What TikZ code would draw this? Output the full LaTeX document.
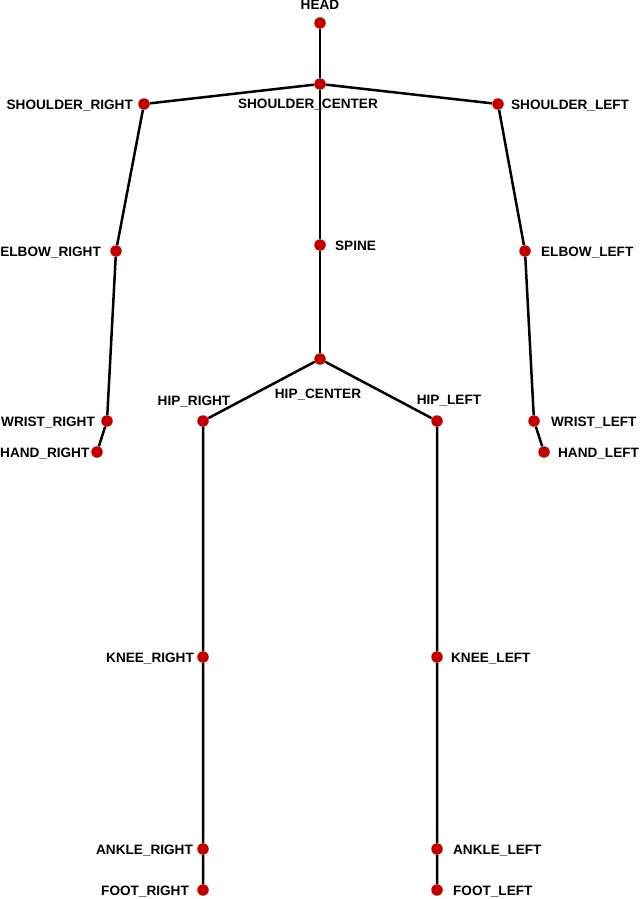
\documentclass[tikz,border=0pt]{standalone}
\usepackage{fontspec}
\setmainfont{Liberation Sans}
\usetikzlibrary{positioning}
\definecolor{jointred}{RGB}{192,0,0}
\begin{document}
\begin{tikzpicture}[x=1pt, y=-1pt,
    joint/.style={circle, fill=jointred, inner sep=0pt, minimum size=11.5pt},
    lbl/.style={inner sep=0pt, font=\fontsize{13.6}{16}\selectfont\bfseries, text height=10pt, text depth=0pt},
    bone/.style={line width=2.5pt}]
\useasboundingbox (0,0) rectangle (640,899);
% joints
\node[joint] (head) at (320,23) {};
\node[joint] (sc) at (320,84) {};
\node[joint] (sr) at (144,104) {};
\node[joint] (sl) at (498,104) {};
\node[joint] (er) at (116,251) {};
\node[joint] (sp) at (320,245) {};
\node[joint] (el) at (525,251) {};
\node[joint] (hc) at (320,359) {};
\node[joint] (hr) at (203,421) {};
\node[joint] (hl) at (437,421) {};
\node[joint] (wr) at (107,421) {};
\node[joint] (har) at (97,452) {};
\node[joint] (wl) at (534,421) {};
\node[joint] (hal) at (544,452) {};
\node[joint] (kr) at (203,657) {};
\node[joint] (kl) at (437,657) {};
\node[joint] (ar) at (203,849) {};
\node[joint] (al) at (437,849) {};
\node[joint] (fr) at (203,890) {};
\node[joint] (fl) at (437,890) {};

% bones
\draw[bone] (head)--(sc)--(sp)--(hc);
\draw[bone] (sc)--(sr)--(er)--(wr)--(har);
\draw[bone] (sc)--(sl)--(el)--(wl)--(hal);
\draw[bone] (hc)--(hr)--(kr)--(ar)--(fr);
\draw[bone] (hc)--(hl)--(kl)--(al)--(fl);

% labels
\node[lbl] (headL) at (320,5) {HEAD};
\node[lbl] (scL) at (308,103) {SHOULDER\_CENTER};
\node[lbl, left=5pt of sr] (srL) {SHOULDER\_RIGHT};
\node[lbl, right=7pt of sl] (slL) {SHOULDER\_LEFT};
\node[lbl, left=9pt of er] (erL) {ELBOW\_RIGHT};
\node[lbl, right=9pt of sp] (spL) {SPINE};
\node[lbl, right=10pt of el] (elL) {ELBOW\_LEFT};
\node[lbl] (hcL) at (318,393) {HIP\_CENTER};
\node[lbl] (hrL) at (194,400) {HIP\_RIGHT};
\node[lbl] (hlL) at (449,399) {HIP\_LEFT};
\node[lbl, left=6pt of wr] (wrL) {WRIST\_RIGHT};
\node[lbl, left=1.5pt of har] (harL) {HAND\_RIGHT};
\node[lbl, right=11pt of wl] (wlL) {WRIST\_LEFT};
\node[lbl, right=8pt of hal] (halL) {HAND\_LEFT};
\node[lbl, left=3pt of kr] (krL) {KNEE\_RIGHT};
\node[lbl, right=8pt of kl] (klL) {KNEE\_LEFT};
\node[lbl, left=4pt of ar] (arL) {ANKLE\_RIGHT};
\node[lbl, right=10pt of al] (alL) {ANKLE\_LEFT};
\node[lbl, left=8pt of fr] (frL) {FOOT\_RIGHT};
\node[lbl, right=10pt of fl] (flL) {FOOT\_LEFT};
\end{tikzpicture}
\end{document}
